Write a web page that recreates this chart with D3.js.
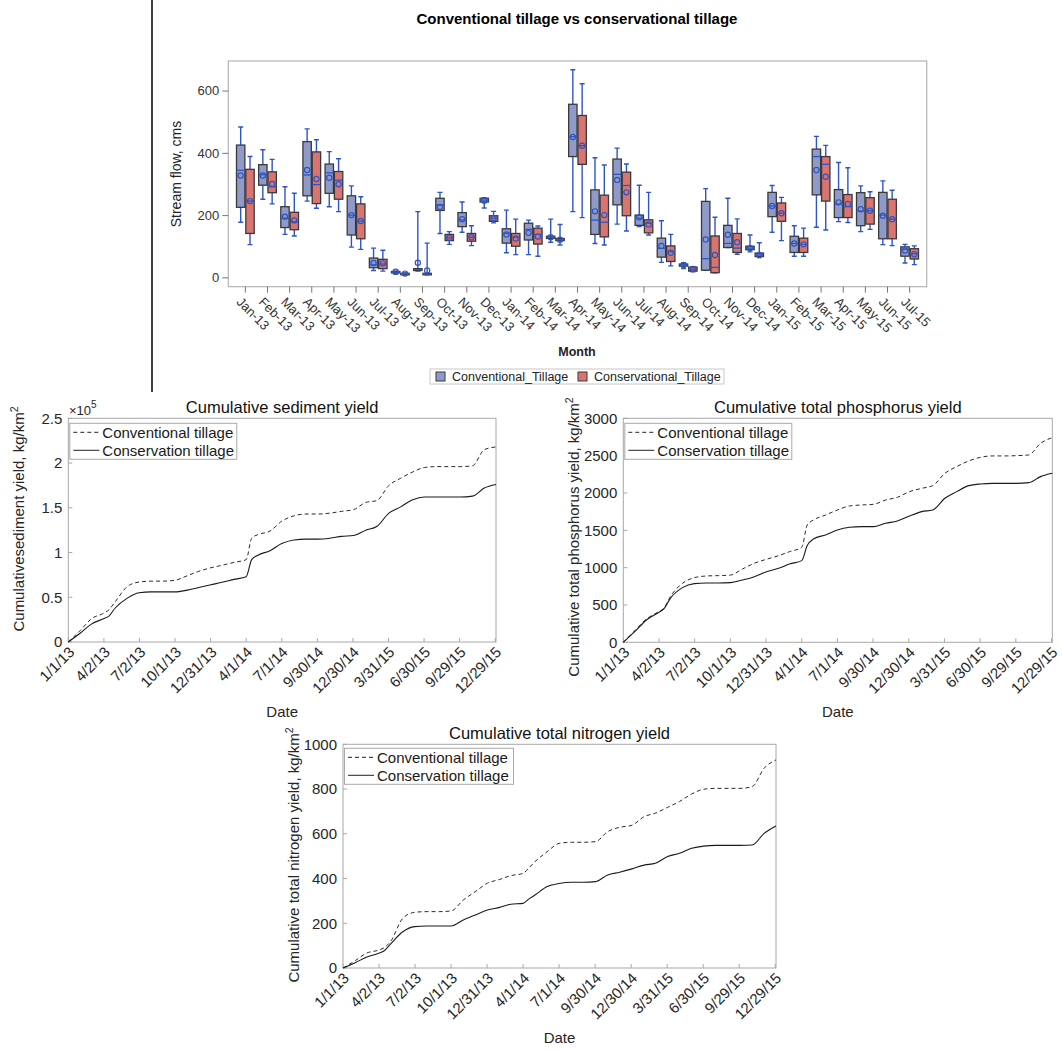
<!DOCTYPE html>
<html>
<head>
<meta charset="utf-8">
<script src="https://cdn.jsdelivr.net/npm/d3@7"></script>
<style>
  body { margin: 0; background: #fff; }
  text { font-family: "Liberation Sans", Arial, sans-serif; }
</style>
</head>
<body>
<script>
// ---- stream flow box plot data (cms)
const months = ["Jan-13","Feb-13","Mar-13","Apr-13","May-13","Jun-13","Jul-13","Aug-13","Sep-13","Oct-13","Nov-13","Dec-13",
  "Jan-14","Feb-14","Mar-14","Apr-14","May-14","Jun-14","Jul-14","Aug-14","Sep-14","Oct-14","Nov-14","Dec-14",
  "Jan-15","Feb-15","Mar-15","Apr-15","May-15","Jun-15","Jul-15"];

const convMax  = [483,410,291,477,404,294,94,20,211,273,242,256,216,184,187,667,384,415,296,182,47,285,254,136,295,166,453,369,294,310,106];
const convQ3   = [425,362,227,436,364,262,62,19,28,254,208,254,156,174,132,556,281,380,200,126,43,244,167,100,273,132,412,282,272,273,98];
const convMed  = [344,330,190,329,336,200,40,17,25,232,184,248,141,154,129,452,184,331,190,93,40,60,109,94,229,109,388,235,213,200,90];
const convQ1   = [225,296,160,262,270,136,31,16,22,215,163,242,110,120,125,388,138,233,167,65,36,23,96,89,195,80,265,192,166,124,68];
const convMin  = [177,251,138,245,227,97,22,11,20,141,145,223,79,73,113,211,109,171,163,48,28,23,96,82,145,68,161,179,147,105,46];
const convMean = [327,327,195,345,320,200,46,18,47,226,187,246,138,143,129,451,212,313,193,101,40,122,137,94,229,109,345,241,219,198,86];

const consMax  = [388,379,270,442,381,259,87,14,110,147,166,212,187,165,170,622,361,364,273,138,34,193,188,111,257,158,424,352,275,280,101];
const consQ3   = [347,339,209,403,340,236,58,13,13,138,141,198,141,158,125,520,264,338,185,101,33,133,141,78,239,126,388,266,256,251,92];
const consMed  = [245,291,179,298,312,181,43,12,11,127,129,190,129,138,121,423,177,295,174,82,26,32,94,72,206,106,363,227,214,187,76];
const consQ1   = [141,272,153,237,251,124,28,10,9,118,116,180,100,107,118,363,130,198,143,51,20,15,80,67,180,80,245,192,171,124,59];
const consMin  = [105,236,133,222,211,90,20,8,8,106,102,175,73,68,104,192,104,149,136,37,18,15,74,64,118,68,152,176,154,102,41];
const consMean = [245,300,183,316,299,181,45,12,22,127,129,190,125,131,121,423,200,273,170,79,27,72,113,72,206,106,323,236,214,187,74];

const flowTicks = [0, 200, 400, 600];

// ---- cumulative yields (sampled dates)
const lineDates = ["2013-01-01","2013-02-01","2013-03-01","2013-04-01","2013-04-15","2013-05-01","2013-06-01","2013-07-01",
  "2013-08-01","2013-09-01","2013-10-01","2013-11-01","2013-12-01","2014-01-01","2014-02-01","2014-03-01","2014-04-01",
  "2014-04-15","2014-05-01","2014-06-01","2014-07-01","2014-08-01","2014-09-01","2014-10-01","2014-11-01","2014-12-01",
  "2015-01-01","2015-02-01","2015-03-01","2015-04-01","2015-05-01","2015-06-01","2015-07-01","2015-08-01","2015-09-01",
  "2015-10-01","2015-11-01","2015-12-01","2015-12-31"];

// sediment in units of 10^5 kg/km2
const sedConv = [0,0.13,0.26,0.32,0.36,0.45,0.62,0.67,0.68,0.68,0.69,0.74,0.79,0.83,0.86,0.89,0.92,1.16,1.20,1.24,1.35,1.41,1.43,1.43,1.44,1.46,1.48,1.56,1.58,1.75,1.83,1.90,1.95,1.96,1.96,1.96,1.97,2.15,2.18];
const sedCons = [0,0.10,0.20,0.26,0.29,0.38,0.49,0.55,0.56,0.56,0.56,0.58,0.61,0.64,0.67,0.70,0.73,0.92,0.97,1.02,1.10,1.14,1.15,1.15,1.16,1.18,1.19,1.25,1.29,1.44,1.51,1.59,1.62,1.62,1.62,1.62,1.63,1.72,1.76];

const phosConv = [0,165,312,410,460,612,790,866,888,893,900,982,1058,1112,1160,1214,1272,1571,1638,1705,1772,1826,1839,1848,1906,1942,2018,2062,2098,2263,2353,2429,2478,2496,2496,2500,2509,2665,2741];
const phosCons = [0,152,299,400,450,589,732,786,795,795,799,835,879,946,991,1049,1094,1295,1384,1438,1504,1540,1549,1549,1594,1625,1692,1750,1772,1929,2018,2098,2121,2129,2129,2129,2138,2219,2263];

const nitConv = [0,33,66,80,91,118,222,249,252,252,255,304,341,379,396,413,423,446,475,520,557,562,562,565,610,629,638,677,692,718,744,778,799,803,803,803,811,893,930];
const nitCons = [0,24,48,66,77,107,162,185,188,188,188,215,237,259,271,285,289,308,326,364,378,383,383,386,416,428,443,460,468,498,513,535,545,548,548,548,550,602,635];

const dateTicks = ["1/1/13","4/2/13","7/2/13","10/1/13","12/31/13","4/1/14","7/1/14","9/30/14","12/30/14","3/31/15","6/30/15","9/29/15","12/29/15"];

const svg = d3.select("body").append("svg")
  .attr("width", 1062)
  .attr("height", 1050);

// divider from the composite figure
svg.append("line")
  .attr("x1", 152).attr("x2", 152).attr("y1", 0).attr("y2", 392)
  .attr("stroke", "#000").attr("stroke-width", 1.5);

// ================= box plot =================
const bp = {left: 228.3, right: 926.7, top: 61, bottom: 286.7};

const x = d3.scaleBand().domain(months).range([bp.left, bp.right])
  .paddingInner(0.2).paddingOuter(0.37);
const xSub = d3.scaleBand().domain(["conv", "cons"]).range([0, x.bandwidth()]).paddingInner(0.1);
const y = d3.scaleLinear().domain([-30, 695]).range([bp.bottom, bp.top]);

svg.append("text")
  .attr("x", 577).attr("y", 24)
  .attr("text-anchor", "middle")
  .style("font-size", "15px").style("font-weight", "bold")
  .text("Conventional tillage vs conservational tillage");

svg.append("rect")
  .attr("x", bp.left).attr("y", bp.top)
  .attr("width", bp.right - bp.left).attr("height", bp.bottom - bp.top)
  .attr("fill", "#fff").attr("stroke", "#b4b4b4").attr("stroke-width", 1.2);

const yAx = svg.append("g")
  .attr("transform", `translate(${bp.left},0)`)
  .call(d3.axisLeft(y).tickValues(flowTicks).tickSize(6).tickPadding(3));
yAx.select(".domain").remove();
yAx.selectAll("line").attr("stroke", "#777");
yAx.selectAll("text").style("font-size", "13px").attr("fill", "#333")
  .style("font-family", "'Liberation Sans', Arial, sans-serif");

const xAx = svg.append("g")
  .attr("transform", `translate(0,${bp.bottom})`)
  .call(d3.axisBottom(x).tickSize(6).tickFormat(""));
xAx.select(".domain").remove();
xAx.selectAll("line").attr("stroke", "#777");

svg.append("g").selectAll("text")
  .data(months)
  .join("text")
  .attr("transform", d => `translate(${x(d) + x.bandwidth() / 2 - 9.5},${bp.bottom + 16}) rotate(45)`)
  .style("font-size", "13px")
  .attr("fill", "#333")
  .text(d => d);

svg.append("text")
  .attr("transform", `translate(181,174) rotate(-90)`)
  .attr("text-anchor", "middle")
  .style("font-size", "14px").attr("fill", "#222")
  .text("Stream flow, cms");

svg.append("text")
  .attr("x", 577).attr("y", 355.5)
  .attr("text-anchor", "middle")
  .style("font-size", "12.5px").style("font-weight", "bold").attr("fill", "#222")
  .text("Month");

const series = [
  {key: "conv", label: "Conventional_Tillage", fill: "#8f9ac8",
    min: convMin, q1: convQ1, med: convMed, q3: convQ3, max: convMax, mean: convMean},
  {key: "cons", label: "Conservational_Tillage", fill: "#d97470",
    min: consMin, q1: consQ1, med: consMed, q3: consQ3, max: consMax, mean: consMean}
];

const whiskerColor = "#2d55c6";

series.forEach(s => {
  const g = svg.append("g").attr("class", "box-" + s.key);
  const rows = months.map((m, i) => ({
    m, min: s.min[i], q1: s.q1[i], med: s.med[i], q3: s.q3[i], max: s.max[i], mean: s.mean[i]
  }));
  const bw = xSub.bandwidth();
  const bx = d => x(d.m) + xSub(s.key);
  const cx = d => bx(d) + bw / 2;

  // whiskers
  g.selectAll(".wh").data(rows).join("path")
    .attr("d", d => `M${cx(d)},${y(d.q3)}V${y(d.max)}M${cx(d) - 2.5},${y(d.max)}H${cx(d) + 2.5}` +
      `M${cx(d)},${y(d.q1)}V${y(d.min)}M${cx(d) - 2.5},${y(d.min)}H${cx(d) + 2.5}`)
    .attr("fill", "none").attr("stroke", whiskerColor).attr("stroke-width", 1.4);

  g.selectAll(".bx").data(rows).join("rect")
    .attr("x", bx)
    .attr("y", d => y(d.q3))
    .attr("width", bw)
    .attr("height", d => Math.max(1.5, y(d.q1) - y(d.q3)))
    .attr("fill", s.fill)
    .attr("stroke", "#3a3a3a")
    .attr("stroke-width", 1.3);

  g.selectAll(".md").data(rows).join("line")
    .attr("x1", bx).attr("x2", d => bx(d) + bw)
    .attr("y1", d => y(d.med)).attr("y2", d => y(d.med))
    .attr("stroke", whiskerColor).attr("stroke-width", 1.3);

  g.selectAll(".mn").data(rows).join("circle")
    .attr("cx", cx).attr("cy", d => y(d.mean))
    .attr("r", 2.6)
    .attr("fill", "none").attr("stroke", whiskerColor).attr("stroke-width", 1.2);
});

// legend
const lg = svg.append("g");
lg.append("rect").attr("x", 430).attr("y", 369).attr("width", 294).attr("height", 15)
  .attr("fill", "#fff").attr("stroke", "#c8c8c8");
const legendX = [436, 578];
series.forEach((s, i) => {
  lg.append("rect").attr("x", legendX[i]).attr("y", 372).attr("width", 9).attr("height", 9)
    .attr("fill", s.fill).attr("stroke", "#3a3a3a");
  lg.append("text").attr("x", legendX[i] + 16).attr("y", 380.5)
    .style("font-size", "12.5px").attr("fill", "#222")
    .text(s.label);
});

// ================= cumulative yield charts =================
const parseIso = d3.timeParse("%Y-%m-%d");
const parseTick = d3.timeParse("%m/%d/%y");
const dates = lineDates.map(parseIso);
const tickDates = dateTicks.map(parseTick);

function drawCumulative(c) {
  const g = svg.append("g");
  const xs = d3.scaleTime().domain([new Date(2013, 0, 1), new Date(2015, 11, 31)]).range([c.left, c.right]);
  const ys = d3.scaleLinear().domain([0, c.yMax]).range([c.bottom, c.top]);

  g.append("rect")
    .attr("x", c.left).attr("y", c.top)
    .attr("width", c.right - c.left).attr("height", c.bottom - c.top)
    .attr("fill", "#fff").attr("stroke", "#a8a8a8").attr("stroke-width", 1);

  // inward ticks
  g.selectAll(".yt").data(c.yTicks).join("line")
    .attr("x1", c.left).attr("x2", c.left + 4)
    .attr("y1", d => ys(d)).attr("y2", d => ys(d))
    .attr("stroke", "#a8a8a8");
  g.selectAll(".xt").data(tickDates).join("line")
    .attr("x1", d => xs(d)).attr("x2", d => xs(d))
    .attr("y1", c.bottom).attr("y2", c.bottom - 4)
    .attr("stroke", "#a8a8a8");

  g.selectAll(".yl").data(c.yTicks).join("text")
    .attr("x", c.left - 6).attr("y", d => ys(d)).attr("dy", "0.35em")
    .attr("text-anchor", "end")
    .style("font-size", "15px").attr("fill", "#262626")
    .text(d => d);

  g.selectAll(".xl").data(tickDates).join("text")
    .attr("transform", d => `translate(${xs(d) + 7},${c.bottom + 11}) rotate(-45)`)
    .attr("text-anchor", "end")
    .style("font-size", "15px").attr("fill", "#262626")
    .text((d, i) => dateTicks[i]);

  const line = d3.line()
    .x((d, i) => xs(dates[i]))
    .y(d => ys(d))
    .curve(d3.curveMonotoneX);

  g.append("path").attr("d", line(c.conv))
    .attr("fill", "none").attr("stroke", "#2a2a2a").attr("stroke-width", 1)
    .attr("stroke-dasharray", "4,3");
  g.append("path").attr("d", line(c.cons))
    .attr("fill", "none").attr("stroke", "#1a1a1a").attr("stroke-width", 1.1);

  g.append("text")
    .attr("x", (c.left + c.right) / 2).attr("y", c.top - 5)
    .attr("text-anchor", "middle")
    .style("font-size", "16.5px").attr("fill", "#111")
    .text(c.title);

  g.append("text")
    .attr("x", (c.left + c.right) / 2).attr("y", c.bottom + 75)
    .attr("text-anchor", "middle")
    .style("font-size", "15px").attr("fill", "#262626")
    .text("Date");

  const yl = g.append("text")
    .attr("transform", `translate(${c.left - 44},${c.yLabelY}) rotate(-90)`)
    .attr("text-anchor", "middle")
    .style("font-size", "15px").attr("fill", "#262626");
  yl.append("tspan").text(c.yLabel);
  yl.append("tspan").attr("dy", -6).style("font-size", "10.5px").text("2");

  // legend
  const ly = c.top + c.legendOffset;
  g.append("rect")
    .attr("x", c.left + 1.5).attr("y", ly)
    .attr("width", c.legendW).attr("height", 36)
    .attr("fill", "#fff").attr("stroke", "#a8a8a8");
  const items = [{label: "Conventional tillage", dash: "4,3"}, {label: "Conservation tillage", dash: null}];
  items.forEach((it, i) => {
    const yy = ly + 9 + i * 18;
    g.append("line")
      .attr("x1", c.left + 5).attr("x2", c.left + 31)
      .attr("y1", yy).attr("y2", yy)
      .attr("stroke", "#222").attr("stroke-width", 1)
      .attr("stroke-dasharray", it.dash);
    g.append("text")
      .attr("x", c.left + 34).attr("y", yy + 5.5)
      .style("font-size", "15px").attr("fill", "#1a1a1a")
      .text(it.label);
  });
  return g;
}

const gSed = drawCumulative({
  left: 68.3, right: 496, top: 418.3, bottom: 642,
  yMax: 2.5, yTicks: [0, 0.5, 1, 1.5, 2, 2.5],
  conv: sedConv, cons: sedCons,
  title: "Cumulative sediment yield",
  yLabel: "Cumulativesediment yield, kg/km", yLabelY: 519,
  legendOffset: 5, legendW: 167
});
const ex = gSed.append("text")
  .attr("x", 69).attr("y", 415)
  .style("font-size", "13px").attr("fill", "#262626");
ex.append("tspan").text("\u00d710");
ex.append("tspan").attr("dy", -7).style("font-size", "10px").text("5");

drawCumulative({
  left: 623.3, right: 1052.3, top: 418.3, bottom: 642.3,
  yMax: 3000, yTicks: [0, 500, 1000, 1500, 2000, 2500, 3000],
  conv: phosConv, cons: phosCons,
  title: "Cumulative total phosphorus yield",
  yLabel: "Cumulative total phosphorus yield, kg/km", yLabelY: 537,
  legendOffset: 5, legendW: 167
});

drawCumulative({
  left: 343, right: 776, top: 744.3, bottom: 968,
  yMax: 1000, yTicks: [0, 200, 400, 600, 800, 1000],
  conv: nitConv, cons: nitCons,
  title: "Cumulative total nitrogen yield",
  yLabel: "Cumulative total nitrogen yield, kg/km", yLabelY: 855,
  legendOffset: 4, legendW: 169
});
</script>
</body>
</html>
